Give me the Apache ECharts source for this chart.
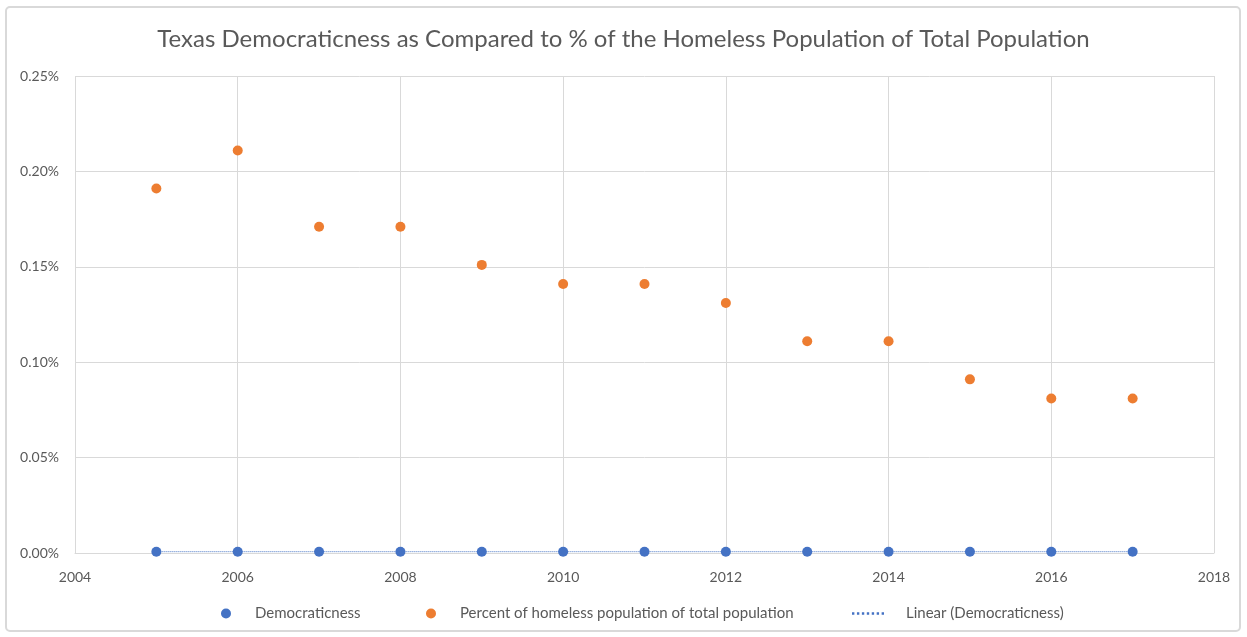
<!DOCTYPE html>
<html>
<head>
<meta charset="utf-8">
<script src="https://cdn.jsdelivr.net/npm/echarts@6/dist/echarts.min.js"></script>
<style>
  html, body { margin: 0; padding: 0; background: #fff; }
  #chart { width: 1247px; height: 637px; }
</style>
</head>
<body>
<div id="chart"></div>
<script>
// values in percent units
const years = [2005, 2006, 2007, 2008, 2009, 2010, 2011, 2012, 2013, 2014, 2015, 2016, 2017];
const democraticness = [0.0007, 0.0007, 0.0007, 0.0007, 0.0007, 0.0007, 0.0007, 0.0007, 0.0007, 0.0007, 0.0007, 0.0007, 0.0007];
const homelessPct = [0.191, 0.211, 0.171, 0.171, 0.151, 0.141, 0.141, 0.131, 0.111, 0.111, 0.091, 0.081, 0.081];
const trendYears = [2005, 2017];
const trendValues = [0.0007, 0.0007];

const font = 'Lato, "Open Sans", sans-serif';
const grey = '#595959';
const blue = '#4472c4';
const orange = '#ed7d31';

// dotted line icon for the trendline legend entry
const dottedIcon = 'path://' + [0, 5, 10, 15, 20, 25, 30].map(x => 'M' + x + ' 0h2.4v2.4h-2.4z').join(' ');

const chart = echarts.init(document.getElementById('chart'));

const legendBase = {
  top: 601,
  itemHeight: 10,
  itemWidth: 10,
  textStyle: { color: grey, fontSize: 15, fontFamily: font, padding: [0, 0, 0, 20] }
};

chart.setOption({
  animation: false,
  textStyle: { fontFamily: font },
  title: {
    text: 'Texas Democraticness as Compared to % of the Homeless Population of Total Population',
    left: 'center',
    top: 22,
    textStyle: { color: grey, fontSize: 24, fontWeight: 'normal', fontFamily: font }
  },
  graphic: [{
    type: 'rect',
    shape: { x: 6, y: 7, width: 1234, height: 624, r: 4 },
    style: { fill: 'none', stroke: '#d9d9d9', lineWidth: 2 },
    silent: true
  }],
  legend: [
    Object.assign({}, legendBase, {
      left: 216,
      textStyle: Object.assign({}, legendBase.textStyle, { padding: [0, 0, 0, 19] }),
      data: [{ name: 'Democraticness', icon: 'circle' }]
    }),
    Object.assign({}, legendBase, {
      left: 421,
      textStyle: Object.assign({}, legendBase.textStyle, { padding: [0, 0, 0, 19] }),
      data: [{ name: 'Percent of homeless population of total population', icon: 'circle' }]
    }),
    Object.assign({}, legendBase, {
      left: 847, itemWidth: 32, itemHeight: 2.4,
      textStyle: Object.assign({}, legendBase.textStyle, { padding: [0, 0, 0, 17] }),
      data: [{ name: 'Linear (Democraticness)', icon: dottedIcon, itemStyle: { color: blue } }]
    })
  ],
  grid: { left: 75, right: 33, top: 76, bottom: 84 },
  xAxis: {
    type: 'value',
    min: 2004,
    max: 2018,
    interval: 2,
    axisLine: { show: true, lineStyle: { color: '#d9d9d9' } },
    axisTick: { show: false },
    axisLabel: { color: grey, fontSize: 14, margin: 17, formatter: v => String(v) },
    splitLine: { show: true, lineStyle: { color: '#d9d9d9', width: 1 } }
  },
  yAxis: {
    type: 'value',
    min: 0,
    max: 0.25,
    interval: 0.05,
    axisLine: { show: false },
    axisTick: { show: false },
    axisLabel: { color: grey, fontSize: 14, margin: 16, formatter: v => v.toFixed(2) + '%' },
    splitLine: { show: true, lineStyle: { color: '#d9d9d9', width: 1 } }
  },
  series: [
    {
      name: 'Linear (Democraticness)',
      type: 'line',
      symbol: 'none',
      z: 1,
      lineStyle: { color: blue, type: 'dotted', width: 1 },
      itemStyle: { color: blue },
      data: trendYears.map((y, i) => [y, trendValues[i]])
    },
    {
      name: 'Democraticness',
      type: 'scatter',
      symbolSize: 10,
      itemStyle: { color: blue, opacity: 1 },
      data: years.map((y, i) => [y, democraticness[i]])
    },
    {
      name: 'Percent of homeless population of total population',
      type: 'scatter',
      symbolSize: 10,
      itemStyle: { color: orange, opacity: 1 },
      data: years.map((y, i) => [y, homelessPct[i]])
    }
  ]
});
</script>
</body>
</html>
